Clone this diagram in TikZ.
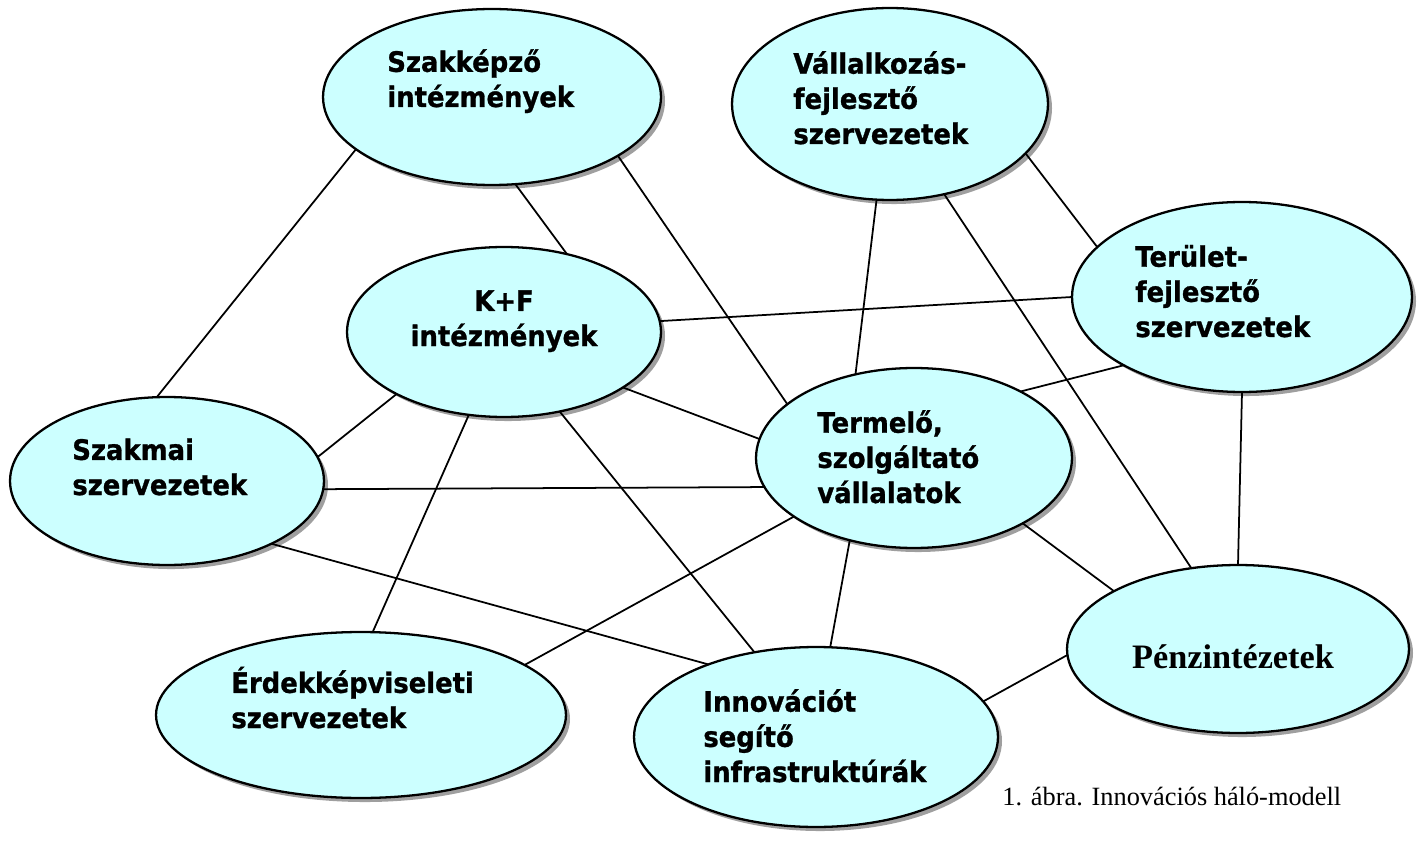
\documentclass[tikz,border=0pt]{standalone}
\usepackage{fontspec}
\usetikzlibrary{shapes.geometric,shadows}
\newfontfamily\ellfont{DejaVu Sans}[FakeStretch=0.92,FakeBold=1]
\newfontfamily\serfont{Liberation Serif}
\definecolor{ellfill}{HTML}{CCFFFF}

\begin{document}
\begin{tikzpicture}[x=0.02cm,y=-0.02cm,
    ell/.style={ellipse,draw,line width=1.3pt,fill=ellfill,inner sep=0pt,outer sep=0pt,
      general shadow={fill=gray!75,shadow xshift=2.3pt,shadow yshift=-2.3pt}},
    lbl/.style={anchor=base west,align=left,inner sep=0pt,
      font=\ellfont\bfseries\fontsize{16}{20}\selectfont},
    link/.style={line width=1pt}]
  \useasboundingbox (0,0) rectangle (1417,841);
  \draw
    (492,97) node[ell,minimum width=6.76cm,minimum height=3.52cm] (szk){}
    (890,104) node[ell,minimum width=6.32cm,minimum height=3.84cm] (val){}
    (1242,297) node[ell,minimum width=6.8cm,minimum height=3.8cm] (ter){}
    (504,332) node[ell,minimum width=6.28cm,minimum height=3.4cm] (kf){}
    (914,458) node[ell,minimum width=6.32cm,minimum height=3.6cm] (trm){}
    (167,481) node[ell,minimum width=6.28cm,minimum height=3.36cm] (szm){}
    (1238,649) node[ell,minimum width=6.84cm,minimum height=3.36cm] (pnz){}
    (361,715) node[ell,minimum width=8.2cm,minimum height=3.32cm] (erd){}
    (816,737) node[ell,minimum width=7.28cm,minimum height=3.6cm] (inn){};
  % anchor base = baseline of the last line
  \draw
    (387,107) node[lbl] (szk-t){Szakképző\\intézmények}
    (793,144) node[lbl] (val-t){Vállalkozás-\\fejlesztő\\szervezetek}
    (1135,337) node[lbl] (ter-t){Terület-\\fejlesztő\\szervezetek}
    (504,346) node[lbl,anchor=base,align=center] (kf-t){K+F\\intézmények}
    (817,503) node[lbl] (trm-t){Termelő,\\szolgáltató\\vállalatok}
    (72,495) node[lbl] (szm-t){Szakmai\\szervezetek}
    (231,728) node[lbl] (erd-t){Érdekképviseleti\\szervezetek}
    (703,782) node[lbl] (inn-t){Innovációt\\segítő\\infrastruktúrák}
    (1233,668) node[anchor=base,inner sep=0pt,font=\serfont\bfseries\fontsize{19.5}{23}\selectfont] (pnz-t){Pénzintézetek}
    (1002,805) node[anchor=base west,inner sep=0pt,font=\serfont\fontsize{15}{18}\selectfont] (cap){1. ábra. Innovációs háló-modell};
  \begin{scope}[link]
    \draw (szk.201) to (szm.97);
    \draw (szk.285) to (kf.51);
    \draw (szk.335) to (trm.157);
    \draw (val.262) to (trm.125);
    \draw (val.301) to (pnz.120);
    \draw (val.340) to (ter.161);
    \draw (kf.4) to (ter.180);
    \draw (ter.210) to (trm.32);
    \draw (ter.270) to (pnz.90);
    \draw (kf.335) to (trm.173);
    \draw (kf.210) to (szm.9);
    \draw (szm.357) to (trm.191);
    \draw (kf.247) to (erd.82);
    \draw (kf.305) to (inn.126);
    \draw (szm.329) to (inn.146);
    \draw (trm.206) to (erd.17);
    \draw (trm.232) to (inn.81);
    \draw (trm.329) to (pnz.155);
    \draw (pnz.182) to (inn.12);
  \end{scope}
\end{tikzpicture}
\end{document}
